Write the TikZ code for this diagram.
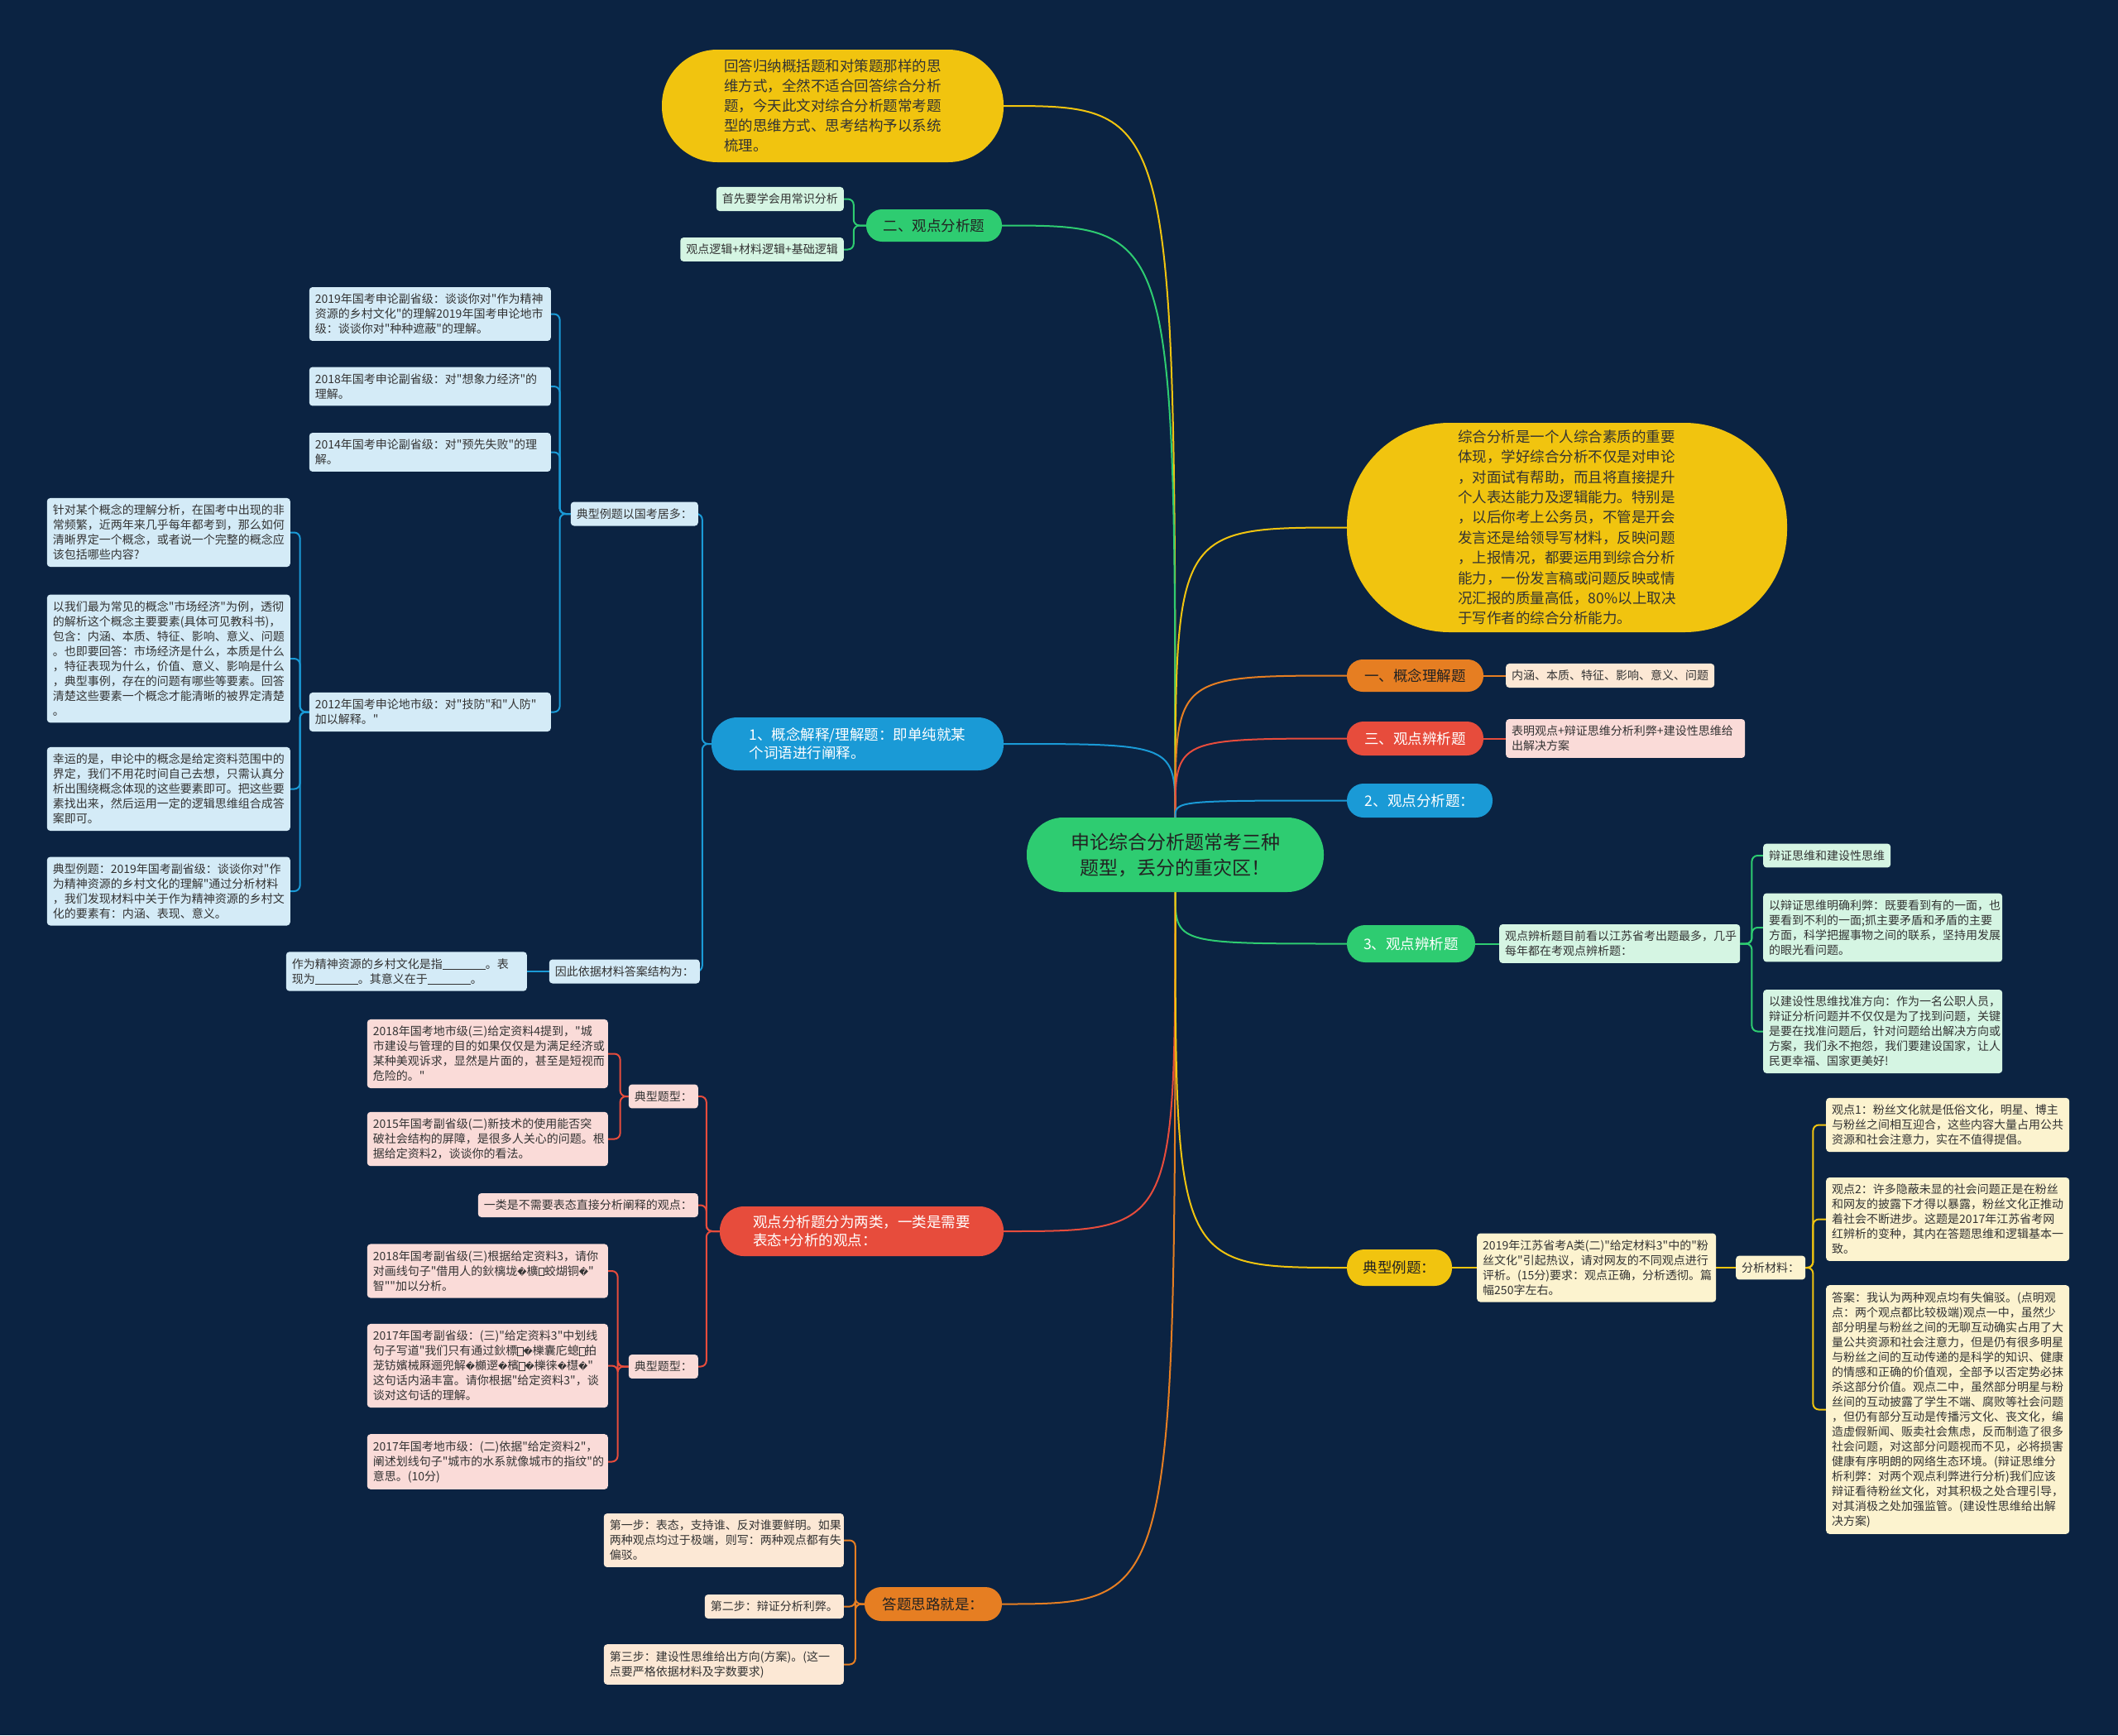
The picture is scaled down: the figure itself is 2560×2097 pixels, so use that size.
\documentclass[tikz,border=0pt]{standalone}
\usepackage{fontspec}
\setmainfont{Noto Sans CJK SC}[Ligatures=TeXOff]
\newfontfamily\djv{DejaVu Sans}
\newcommand\rpl{{\djv\fontsize{11}{18}\selectfont\symbol{"FFFD}}}
\newcommand\tofu{{\fboxsep=0pt\fboxrule=0.6pt\fbox{\rule{0pt}{9pt}\hspace{6pt}}}}
\newcommand\blank{\rule[-1.5pt]{52pt}{0.7pt}}
\definecolor{bgc}{HTML}{0B2342}
\definecolor{cyel}{HTML}{F1C40F}
\definecolor{cgrn}{HTML}{2ECC71}
\definecolor{cora}{HTML}{E67E22}
\definecolor{cred}{HTML}{E74C3C}
\definecolor{cblu}{HTML}{1A9AD6}
\definecolor{lblue}{HTML}{D4EBF7}
\definecolor{mint}{HTML}{D5F5E3}
\definecolor{pink}{HTML}{FADBD8}
\definecolor{peach}{HTML}{FCE8D5}
\definecolor{pyel}{HTML}{FCF3CF}
\definecolor{txt}{HTML}{333333}
\definecolor{dtxt}{HTML}{222222}
\pgfdeclarelayer{bgl}
\pgfdeclarelayer{edl}
\pgfsetlayers{bgl,edl,main}
\begin{document}
\begin{tikzpicture}[x=1pt,y=-1pt,
  sb/.style={rounded corners=4pt, inner xsep=7pt, inner ysep=8pt, align=left,
    font=\fontsize{14}{18}\selectfont, text=txt},
  lb/.style={sb, fill=lblue},
  mb/.style={sb, fill=mint},
  pk/.style={sb, fill=pink},
  pc/.style={sb, fill=peach},
  yb/.style={sb, fill=pyel},
  tw/.style={text width=#1pt},
  pill/.style={inner sep=0pt, font=\fontsize{17.5}{22}\selectfont},
  ed/.style={line width=2pt},
  brk/.style={line width=2pt, rounded corners=7pt}
]
\begin{pgfonlayer}{bgl}
\fill[bgc] (0,0) rectangle (2560,2097);
\end{pgfonlayer}
\useasboundingbox (0,0) rectangle (2560,2097);

% ---------- centre ----------
\node[pill, fill=cgrn, text=dtxt, minimum width=359pt, minimum height=90pt,
  rounded corners=44pt, align=center, font=\fontsize{23}{31}\selectfont]
  (C) at (1420.5,1033) {申论综合分析题常考三种\\题型，丢分的重灾区！};

% ---------- left main nodes ----------
\node[pill, fill=cyel, text=txt, minimum width=413pt, minimum height=136pt,
  rounded corners=67pt, align=left, font=\fontsize{17.5}{24}\selectfont]
  (T) at (1006.5,128) {回答归纳概括题和对策题那样的思\\维方式，全然不适合回答综合分析\\题，今天此文对综合分析题常考题\\型的思维方式、思考结构予以系统\\梳理。};
\node[pill, fill=cgrn, text=dtxt, minimum width=164pt, minimum height=39pt,
  rounded corners=19pt] (G2) at (1129,272.5) {二、观点分析题};
\node[pill, fill=cblu, text=white, minimum width=353pt, minimum height=64pt,
  rounded corners=31pt, align=left] (B1) at (1036.5,899)
  {1、概念解释/理解题：即单纯就某\\个词语进行阐释。};
\node[pill, fill=cred, text=white, minimum width=343pt, minimum height=60pt,
  rounded corners=29pt, align=left] (R) at (1041.5,1488)
  {观点分析题分为两类，一类是需要\\表态+分析的观点：};
\node[pill, fill=cora, text=dtxt, minimum width=166pt, minimum height=41pt,
  rounded corners=20pt] (O) at (1128,1938.5) {答题思路就是：};

% ---------- right main nodes ----------
\node[pill, fill=cyel, text=txt, minimum width=532pt, minimum height=253pt,
  rounded corners=124pt, align=left, font=\fontsize{17.5}{24.4}\selectfont]
  (Y2) at (1894,637.5) {综合分析是一个人综合素质的重要\\体现，学好综合分析不仅是对申论\\，对面试有帮助，而且将直接提升\\个人表达能力及逻辑能力。特别是\\，以后你考上公务员，不管是开会\\发言还是给领导写材料，反映问题\\，上报情况，都要运用到综合分析\\能力，一份发言稿或问题反映或情\\况汇报的质量高低，80\%以上取决\\于写作者的综合分析能力。};
\node[pill, fill=cora, text=dtxt, minimum width=165pt, minimum height=39pt,
  rounded corners=19pt] (K) at (1710.5,816.5) {一、概念理解题};
\node[pill, fill=cred, text=white, minimum width=165pt, minimum height=41pt,
  rounded corners=20pt] (S) at (1710.5,892.5) {三、观点辨析题};
\node[pill, fill=cblu, text=white, minimum width=176pt, minimum height=41pt,
  rounded corners=20pt] (P2) at (1716,967.5) {2、观点分析题：};
\node[pill, fill=cgrn, text=white, minimum width=155pt, minimum height=45pt,
  rounded corners=22pt] (P3) at (1705.5,1140.5) {3、观点辨析题};
\node[pill, fill=cyel, text=dtxt, minimum width=127pt, minimum height=44pt,
  rounded corners=21pt] (D) at (1691.5,1532) {典型例题：};

% ---------- 二、观点分析题 children ----------
\node[mb, anchor=east] (n2a) at (1020,240.5) {首先要学会用常识分析};
\node[mb, anchor=east] (n2b) at (1020,301.5) {观点逻辑+材料逻辑+基础逻辑};

% ---------- blue subtree ----------
\node[lb, anchor=east] (bdx) at (844,621) {典型例题以国考居多：};
\node[lb, anchor=east] (byc) at (846,1174) {因此依据材料答案结构为：};
\node[lb, tw=277, anchor=east] (bjg) at (637,1174) {作为精神资源的乡村文化是指\blank。表\\现为\blank。其意义在于\blank。};
\node[lb, tw=278, anchor=east] (b2019) at (666,379.5) {2019年国考申论副省级：谈谈你对"作为精神\\资源的乡村文化"的理解2019年国考申论地市\\级：谈谈你对"种种遮蔽"的理解。};
\node[lb, tw=278, anchor=east] (b2018) at (666,467) {2018年国考申论副省级：对"想象力经济"的\\理解。};
\node[lb, tw=278, anchor=east] (b2014) at (666,546.5) {2014年国考申论副省级：对"预先失败"的理\\解。};
\node[lb, tw=278, anchor=east] (b2012) at (666,860.5) {2012年国考申论地市级：对"技防"和"人防"\\加以解释。"};
\node[lb, tw=280, anchor=east] (bz1) at (351,643.5) {针对某个概念的理解分析，在国考中出现的非\\常频繁，近两年来几乎每年都考到，那么如何\\清晰界定一个概念，或者说一个完整的概念应\\该包括哪些内容?};
\node[lb, tw=280, anchor=east] (bz2) at (351,796) {以我们最为常见的概念"市场经济"为例，透彻\\的解析这个概念主要要素(具体可见教科书)，\\包含：内涵、本质、特征、影响、意义、问题\\。也即要回答：市场经济是什么，本质是什么\\，特征表现为什么，价值、意义、影响是什么\\，典型事例，存在的问题有哪些等要素。回答\\清楚这些要素一个概念才能清晰的被界定清楚\\。};
\node[lb, tw=280, anchor=east] (bz3) at (351,953.5) {幸运的是，申论中的概念是给定资料范围中的\\界定，我们不用花时间自己去想，只需认真分\\析出围绕概念体现的这些要素即可。把这些要\\素找出来，然后运用一定的逻辑思维组合成答\\案即可。};
\node[lb, tw=280, anchor=east] (bz4) at (351,1077) {典型例题：2019年国考副省级：谈谈你对"作\\为精神资源的乡村文化的理解"通过分析材料\\，我们发现材料中关于作为精神资源的乡村文\\化的要素有：内涵、表现、意义。};

% ---------- red subtree ----------
\node[pk, anchor=east] (r1) at (844,1325) {典型题型：};
\node[pk, anchor=east] (r2) at (844,1456.5) {一类是不需要表态直接分析阐释的观点：};
\node[pk, anchor=east] (r3) at (844,1651.5) {典型题型：};
\node[pk, tw=277, anchor=east] (r1a) at (735,1273.5) {2018年国考地市级(三)给定资料4提到，"城\\市建设与管理的目的如果仅仅是为满足经济或\\某种美观诉求，显然是片面的，甚至是短视而\\危险的。"};
\node[pk, tw=277, anchor=east] (r1b) at (735,1376.5) {2015年国考副省级(二)新技术的使用能否突\\破社会结构的屏障，是很多人关心的问题。根\\据给定资料2，谈谈你的看法。};
\node[pk, tw=277, anchor=east] (r3a) at (735,1536) {2018年国考副省级(三)根据给定资料3，请你\\对画线句子"借用人的鈥樆垅\rpl 櫎\tofu 蛟煳铜\rpl"\\智""加以分析。};
\node[pk, tw=277, anchor=east] (r3b) at (735,1650.5) {2017年国考副省级：(三)"给定资料3"中划线\\句子写道"我们只有通过鈥標\tofu\rpl 櫟囊庀螅\tofu 拍\\茏钫嬪械厤逦兜解\rpl 櫇遻\rpl 檳\tofu\rpl 櫟徕\rpl 櫘\rpl"\\这句话内涵丰富。请你根据"给定资料3"，谈\\谈对这句话的理解。};
\node[pk, tw=277, anchor=east] (r3c) at (735,1766.5) {2017年国考地市级：(二)依据"给定资料2"，\\阐述划线句子"城市的水系就像城市的指纹"的\\意思。(10分)};

% ---------- orange subtree ----------
\node[pc, tw=276, anchor=east] (o1) at (1020,1861.5) {第一步：表态，支持谁、反对谁要鲜明。如果\\两种观点均过于极端，则写：两种观点都有失\\偏驳。};
\node[pc, anchor=east] (o2) at (1020,1941.5) {第二步：辩证分析利弊。};
\node[pc, tw=276, anchor=east] (o3) at (1020,2011.5) {第三步：建设性思维给出方向(方案)。(这一\\点要严格依据材料及字数要求)};

% ---------- right children ----------
\node[pc, anchor=west] (Kc) at (1820,816.5) {内涵、本质、特征、影响、意义、问题};
\node[pk, tw=275, anchor=west] (Sc) at (1820,892.5) {表明观点+辩证思维分析利弊+建设性思维给\\出解决方案};
\node[mb, tw=277, anchor=west] (P3c) at (1812,1140.5) {观点辨析题目前看以江苏省考出题最多，几乎\\每年都在考观点辨析题：};
\node[mb, anchor=west] (P3a) at (2131,1034) {辩证思维和建设性思维};
\node[mb, tw=275, anchor=west] (P3b) at (2131,1121) {以辩证思维明确利弊：既要看到有的一面，也\\要看到不利的一面;抓主要矛盾和矛盾的主要\\方面，科学把握事物之间的联系，坚持用发展\\的眼光看问题。};
\node[mb, tw=275, anchor=west] (P3d) at (2131,1246.5) {以建设性思维找准方向：作为一名公职人员，\\辩证分析问题并不仅仅是为了找到问题，关键\\是要在找准问题后，针对问题给出解决方向或\\方案，我们永不抱怨，我们要建设国家，让人\\民更幸福、国家更美好!};
\node[yb, tw=275, anchor=west] (Dc) at (1785,1532) {2019年江苏省考A类(二)"给定材料3"中的"粉\\丝文化"引起热议，请对网友的不同观点进行\\评析。(15分)要求：观点正确，分析透彻。篇\\幅250字左右。};
\node[yb, anchor=west] (Dm) at (2098,1532) {分析材料：};
\node[yb, tw=280, anchor=west] (V1) at (2207,1359.5) {观点1：粉丝文化就是低俗文化，明星、博主\\与粉丝之间相互迎合，这些内容大量占用公共\\资源和社会注意力，实在不值得提倡。};
\node[yb, tw=280, anchor=west] (V2) at (2207,1473.5) {观点2：许多隐蔽未显的社会问题正是在粉丝\\和网友的披露下才得以暴露，粉丝文化正推动\\着社会不断进步。这题是2017年江苏省考网\\红辨析的变种，其内在答题思维和逻辑基本一\\致。};
\node[yb, tw=280, anchor=west] (V3) at (2207,1703.5) {答案：我认为两种观点均有失偏驳。(点明观\\点：两个观点都比较极端)观点一中，虽然少\\部分明星与粉丝之间的无聊互动确实占用了大\\量公共资源和社会注意力，但是仍有很多明星\\与粉丝之间的互动传递的是科学的知识、健康\\的情感和正确的价值观，全部予以否定势必抹\\杀这部分价值。观点二中，虽然部分明星与粉\\丝间的互动披露了学生不端、腐败等社会问题\\，但仍有部分互动是传播污文化、丧文化，编\\造虚假新闻、贩卖社会焦虑，反而制造了很多\\社会问题，对这部分问题视而不见，必将损害\\健康有序明朗的网络生态环境。(辩证思维分\\析利弊：对两个观点利弊进行分析)我们应该\\辩证看待粉丝文化，对其积极之处合理引导，\\对其消极之处加强监管。(建设性思维给出解\\决方案)};

% ---------- connectors ----------
\begin{pgfonlayer}{edl}
\draw[ed, cyel] (C.north) .. controls (C.north |- T.east) .. (T.east);
\draw[ed, cgrn] (C.north) .. controls (C.north |- G2.east) .. (G2.east);
\draw[ed, cblu] (C.north) .. controls (C.north |- B1.east) .. (B1.east);
\draw[ed, cred] (C.south) .. controls (C.south |- R.east) .. (R.east);
\draw[ed, cora] (C.south) .. controls (C.south |- O.east) .. (O.east);
\draw[ed, cyel] (C.north) .. controls (C.north |- Y2.west) .. (Y2.west);
\draw[ed, cora] (C.north) .. controls (C.north |- K.west) .. (K.west);
\draw[ed, cred] (C.north) .. controls (C.north |- S.west) .. (S.west);
\draw[ed, cblu] (C.north) .. controls (C.north |- P2.west) .. (P2.west);
\draw[ed, cgrn] (C.south) .. controls (C.south |- P3.west) .. (P3.west);
\draw[ed, cyel] (C.south) .. controls (C.south |- D.west) .. (D.west);
% left brackets
\foreach \c in {n2a,n2b} \draw[brk, cgrn] (G2.west) -- ++(-15,0) |- (\c.east);
\foreach \c in {bdx,byc} \draw[brk, cblu] (B1.west) -- ++(-11,0) |- (\c.east);
\foreach \c in {b2019,b2018,b2014,b2012} \draw[brk, cblu] (bdx.west) -- ++(-13,0) |- (\c.east);
\foreach \c in {bz1,bz2,bz3,bz4} \draw[brk, cblu] (b2012.west) -- ++(-11,0) |- (\c.east);
\draw[ed, cblu] (byc.west) -- (bjg.east);
\foreach \c in {r1,r2,r3} \draw[brk, cred] (R.west) -- ++(-16,0) |- (\c.east);
\foreach \c in {r1a,r1b} \draw[brk, cred] (r1.west) -- ++(-10,0) |- (\c.east);
\foreach \c in {r3a,r3b,r3c} \draw[brk, cred] (r3.west) -- ++(-13,0) |- (\c.east);
\foreach \c in {o1,o2,o3} \draw[brk, cora] (O.west) -- ++(-11,0) |- (\c.east);
% right
\draw[ed, cora] (K.east) -- (Kc.west);
\draw[ed, cred] (S.east) -- (Sc.west);
\draw[ed, cgrn] (P3.east) -- (P3c.west);
\foreach \c in {P3a,P3b,P3d} \draw[brk, cgrn] (P3c.east) -- ++(14,0) |- (\c.west);
\draw[ed, cyel] (D.east) -- (Dc.west);
\draw[ed, cyel] (Dc.east) -- (Dm.west);
\foreach \c in {V1,V2,V3} \draw[brk, cyel] (Dm.east) -- ++(9,0) |- (\c.west);
\end{pgfonlayer}
\end{tikzpicture}
\end{document}
